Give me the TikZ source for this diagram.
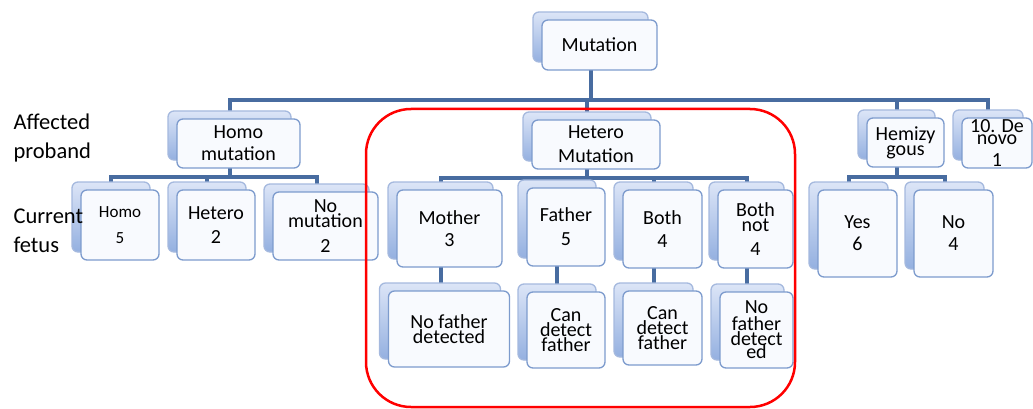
\documentclass[tikz,border=0pt]{standalone}
\usepackage{fontspec}
\setmainfont{Carlito}
\usepackage{tikz}
\usetikzlibrary{shadows,backgrounds}
\definecolor{linkblue}{RGB}{72,108,160}
\definecolor{frontline}{RGB}{125,155,205}
\definecolor{frontfill}{RGB}{248,250,254}
\definecolor{backline}{RGB}{165,185,222}
\definecolor{backtop}{RGB}{220,229,247}
\definecolor{backbot}{RGB}{148,176,224}
\tikzset{
  link/.style={draw=linkblue, line width=4pt},
  box/.style={rectangle, rounded corners=6pt, draw=frontline, line width=1.3pt,
    fill=frontfill, align=center, inner sep=1pt,
    font=\fontsize{20}{22}\selectfont,
    copy shadow={shadow xshift=-9pt, shadow yshift=8pt, draw=backline,
      line width=1.3pt, top color=backtop, bottom color=backbot}},
  sz/.style 2 args={minimum width=#1pt, minimum height=#2pt},
  side/.style={anchor=west, align=left, font=\fontsize{22.5}{29}\selectfont},
  hilite/.style={draw=red, line width=2.5pt, rounded corners=45pt},
}

\begin{document}
\begin{tikzpicture}[x=1pt, y=-1pt]
    \useasboundingbox (0,0) rectangle (1033,409);
    % top and second level
    \node[box, sz={115}{50}] (mut) at (599.5,45) {Mutation};
    \node[box, sz={123}{49}] (homo) at (238.5,143.5) {Homo\\mutation};
    \node[box, sz={128}{49}] (het) at (596,144.5) {Hetero\\[2pt]Mutation};
    \node[box, sz={77}{49}] (hemi) at (905.5,142.5) {Hemizy\\[-7pt]gous};
    \node[box, sz={70}{50}] (novo) at (997,143) {10. De\\[-10pt]novo\\1};
    % current fetus
    \node[box, sz={78}{70}, font=\fontsize{17}{22}\selectfont] (hh) at (120,225) {Homo\\[4pt]5};
    \node[box, sz={78}{70}] (hhet) at (216,225) {Hetero\\[2pt]2};
    \node[box, sz={105}{68}] (hno) at (325.5,226) {No\\[-7pt]mutation\\[3pt]2};
    \node[box, sz={105}{77}] (mom) at (449.5,228.5) {Mother\\3};
    \node[box, sz={78}{78}] (dad) at (566,227) {Father\\[2pt]5};
    \node[box, sz={79}{78}] (both) at (662.5,229) {Both\\[1pt]4};
    \node[box, sz={75}{78}] (bnot) at (755.5,229) {Both\\[-7pt]not\\[2pt]4};
    \node[box, sz={79}{87}] (yes) at (857.5,233.5) {Yes\\6};
    \node[box, sz={79}{87}] (no) at (953.5,233.5) {No\\4};
    % father detection
    \node[box, sz={121}{76}] (nf1) at (449,329) {No father\\[-7pt]detected};
    \node[box, sz={78}{76}] (cd1) at (566,330) {Can\\[-7pt]detect\\[-7pt]father};
    \node[box, sz={79}{74}] (cd2) at (662.5,328) {Can\\[-7pt]detect\\[-7pt]father};
    \node[box, sz={73}{76}] (nf2) at (756.5,330) {No\\[-5pt]father\\[-7pt]detect\\[-9pt]ed};
    % row labels
    \node[side] (aff) at (10,138) {Affected\\proband};
    \node[side] (cur) at (10,231) {Current\\fetus};
    \begin{scope}[on background layer]
      \foreach \c in {homo,het,hemi,novo}
        \draw[link] ([xshift=-9pt]mut.center) -- ++(0,55) -| ([xshift=-9pt]\c.center);
      \foreach \c in {hh,hhet,hno}
        \draw[link] ([xshift=-9pt]homo.center) -- ++(0,33) -| ([xshift=-9pt]\c.center);
      \foreach \c in {mom,dad,both,bnot}
        \draw[link] ([xshift=-9pt]het.center) -- ++(0,33) -| ([xshift=-9pt]\c.center);
      \foreach \c in {yes,no}
        \draw[link] ([xshift=-9pt]hemi.center) -- ++(0,34.5) -| ([xshift=-9pt]\c.center);
      \foreach \a in {mom,dad,both,bnot}
        \draw[link] ([xshift=-9pt]\a.center) -- ++(0,62);
    \end{scope}
    \draw[hilite] (366,109) rectangle (795,407);
\end{tikzpicture}
\end{document}
